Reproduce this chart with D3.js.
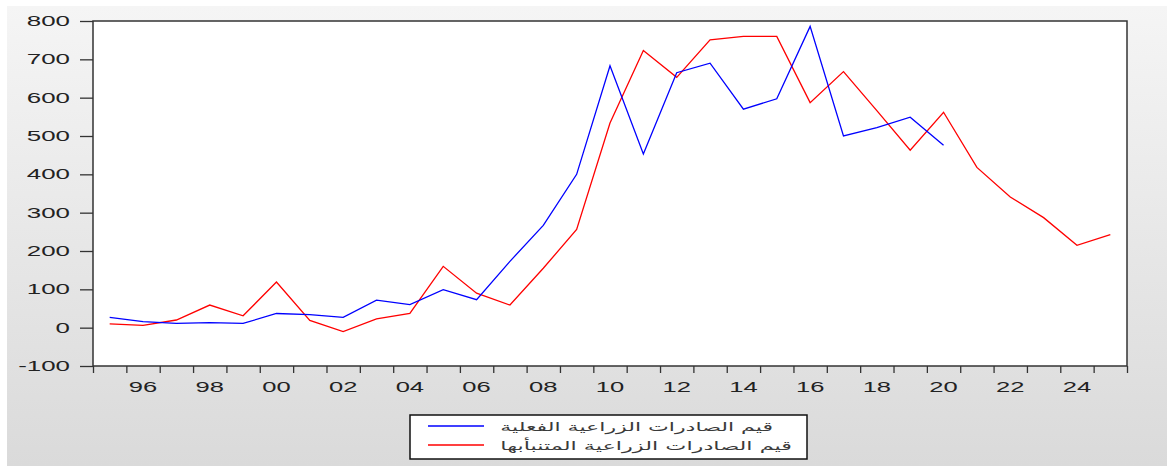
<!DOCTYPE html>
<html>
<head>
  <meta charset="utf-8">
  <title>Agricultural exports: actual vs forecast</title>
  <script src="https://d3js.org/d3.v7.min.js"></script>
  <style>
    body { margin: 0; background: #fff; }
    text { font-family: "Liberation Sans", Arial, sans-serif; fill: #222; }
    .legend-text { font-family: "DejaVu Sans", sans-serif; fill: #3a3a3a; }
  </style>
</head>
<body>
  <svg id="chart" width="1167" height="466"></svg>

  <script>
    // years 1995 .. 2025
    const years = d3.range(1995, 2026);
    const actual = [27, 16, 11, 13, 11, 37, 34, 27, 72, 60, 99, 73, 173, 267, 400,
                    683, 453, 665, 690, 570, 597, 786, 500, 522, 549, 476];
    const forecast = [10, 6, 20, 59, 31, 119, 19, -10, 23, 37, 160, 90, 59, 155, 256,
                      534, 723, 653, 751, 760, 760, 587, 668, 566, 463, 562, 418, 341, 287, 215, 243];
    const yTicks = [-100, 0, 100, 200, 300, 400, 500, 600, 700, 800];
    const xLabels = ["96", "98", "00", "02", "04", "06", "08", "10", "12", "14", "16", "18", "20", "22", "24"];
    const seriesNames = ["قيم الصادرات الزراعية الفعلية", "قيم الصادرات الزراعية المتنبأبها"];

    const svg = d3.select("#chart");
    const plot = { left: 93, right: 1127, top: 21, bottom: 366 };

    // gray gradient background
    const grad = svg.append("defs").append("linearGradient")
      .attr("id", "bg").attr("x1", 0).attr("y1", 0).attr("x2", 0).attr("y2", 1);
    grad.append("stop").attr("offset", 0).attr("stop-color", "#f5f5f5");
    grad.append("stop").attr("offset", 1).attr("stop-color", "#dadada");
    svg.append("rect").attr("x", 7).attr("y", 6).attr("width", 1160).attr("height", 460)
      .attr("fill", "url(#bg)");

    const x = d3.scaleBand().domain(years).range([plot.left, plot.right]).padding(0);
    const y = d3.scaleLinear().domain([-100, 800]).range([plot.bottom, plot.top]);

    // plot area
    svg.append("rect")
      .attr("x", plot.left).attr("y", plot.top)
      .attr("width", plot.right - plot.left).attr("height", plot.bottom - plot.top)
      .attr("fill", "#fff").attr("stroke", "#333").attr("stroke-width", 1.5);

    // y axis ticks
    const yAxis = svg.append("g")
      .attr("transform", `translate(${plot.left},0)`)
      .call(d3.axisLeft(y).tickValues(yTicks).tickSize(13).tickFormat(""));
    yAxis.select(".domain").remove();
    yAxis.selectAll("line").attr("stroke", "#333").attr("stroke-width", 1.3);

    // y labels, stretched like the original
    svg.append("g").selectAll("text")
      .data(yTicks)
      .join("text")
      .attr("text-anchor", "end")
      .attr("font-size", 14)
      .attr("transform", d => `translate(70,${y(d) + 5}) scale(1.85,1)`)
      .text(d => d);

    // x axis ticks at year boundaries
    const xAxis = svg.append("g")
      .attr("transform", `translate(0,${plot.bottom})`)
      .call(d3.axisBottom(d3.scaleLinear().domain([0, years.length]).range([plot.left, plot.right]))
        .tickValues(d3.range(0, years.length + 1)).tickSize(7).tickFormat(""));
    xAxis.select(".domain").remove();
    xAxis.selectAll("line").attr("stroke", "#333").attr("stroke-width", 1.3);

    svg.append("g").selectAll("text")
      .data(xLabels)
      .join("text")
      .attr("text-anchor", "middle")
      .attr("font-size", 15.5)
      .attr("transform", (d, i) => {
        const yr = 1996 + i * 2;
        return `translate(${x(yr) + x.bandwidth() / 2},392) scale(1.65,1)`;
      })
      .text(d => d);

    // lines
    const line = d3.line()
      .x((d, i) => x(years[i]) + x.bandwidth() / 2)
      .y(d => y(d));

    svg.append("path").datum(forecast)
      .attr("fill", "none").attr("stroke", "#ff0000").attr("stroke-width", 1.3)
      .attr("d", line);
    svg.append("path").datum(actual)
      .attr("fill", "none").attr("stroke", "#0000ff").attr("stroke-width", 1.3)
      .attr("d", line);

    // legend
    const legend = svg.append("g");
    legend.append("rect")
      .attr("x", 410).attr("y", 415).attr("width", 397).attr("height", 44)
      .attr("fill", "#fff").attr("stroke", "#111").attr("stroke-width", 1.5);
    const colors = ["#0000ff", "#ff0000"];
    const targetW = [273, 292];
    seriesNames.forEach((name, i) => {
      const ly = 426 + i * 19;
      legend.append("line")
        .attr("x1", 428).attr("x2", 484).attr("y1", ly).attr("y2", ly)
        .attr("stroke", colors[i]).attr("stroke-width", 1.3);
      const t = legend.append("text")
        .attr("class", "legend-text")
        .attr("font-size", 12)
        .attr("direction", "rtl")
        .attr("text-anchor", "start")
        .text(name);
      const w = t.node().getComputedTextLength();
      const sx = targetW[i] / w;
      t.attr("transform", `translate(${500 + targetW[i]},${ly + 5}) scale(${sx},1)`);
    });
  </script>
</body>
</html>
